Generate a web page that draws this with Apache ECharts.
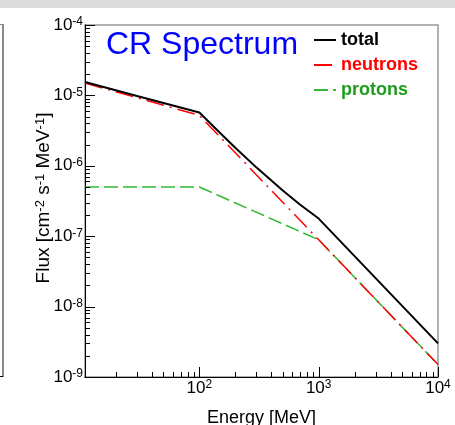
<!DOCTYPE html>
<html>
<head>
<meta charset="utf-8">
<script src="https://cdn.jsdelivr.net/npm/echarts@6/dist/echarts.min.js"></script>
<style>
html,body{margin:0;padding:0;background:#fff;}
#chart{width:455px;height:425px;}
</style>
</head>
<body>
<div id="chart"></div>
<script>
// ---- data ----
const totalEnergy   = [11, 30, 100, 150, 200, 300, 500, 700, 1000, 10000];
const totalFlux     = [1.55e-5, 9.8e-6, 5.7e-6, 2.9e-6, 1.8e-6, 9.5e-7, 4.45e-7, 2.8e-7, 1.78e-7, 3.0e-9];
const neutronEnergy = [11, 100, 1000, 10000];
const neutronFlux   = [1.5e-5, 5.2e-6, 8.9e-8, 1.5e-9];
const protonEnergy  = [11, 100, 1000, 10000];
const protonFlux    = [5.0e-7, 5.0e-7, 8.9e-8, 1.5e-9];

const xRange = [11, 10000];
const yRange = [1e-9, 1e-4];
const xMajorTicks = [100, 1000, 10000];
const xMinorTicks = [20,30,40,50,60,70,80,90, 200,300,400,500,600,700,800,900, 2000,3000,4000,5000,6000,7000,8000,9000];
const yMajorTicks = [1e-9, 1e-8, 1e-7, 1e-6, 1e-5, 1e-4];
const yMinorTicks = [
  2e-9,3e-9,4e-9,5e-9,6e-9,7e-9,8e-9,9e-9,
  2e-8,3e-8,4e-8,5e-8,6e-8,7e-8,8e-8,9e-8,
  2e-7,3e-7,4e-7,5e-7,6e-7,7e-7,8e-7,9e-7,
  2e-6,3e-6,4e-6,5e-6,6e-6,7e-6,8e-6,9e-6,
  2e-5,3e-5,4e-5,5e-5,6e-5,7e-5,8e-5,9e-5
];

const seriesNames = ['total', 'neutrons', 'protons'];
const titleText = 'CR Spectrum';

function pairs(xs, ys){ return xs.map(function(x,i){ return [x, ys[i]]; }); }

const FONT = 'Liberation Sans';
function powLabel(v){
  const e = Math.round(Math.log10(v));
  return '{b|10}{s|' + e + '}';
}
const labelRich = {
  b: {fontSize: 17, lineHeight: 18, fontFamily: FONT, color: '#000'},
  s: {fontSize: 12, lineHeight: 8, verticalAlign: 'top', fontFamily: FONT, color: '#000'}
};

// tick marks drawn through the axes' own scales
function tickSeries(values, isX, len){
  return {
    type: 'custom', coordinateSystem: 'cartesian2d',
    silent: true, z: 5,
    data: values.map(function(v){ return isX ? [v, yRange[0]] : [xRange[0], v]; }),
    renderItem: function(params, api){
      const p = api.coord([api.value(0), api.value(1)]);
      if (isX) {
        const x = Math.round(p[0]) + 0.5;
        return {type: 'line', shape: {x1: x, y1: p[1], x2: x, y2: p[1] - len}, style: {stroke: '#000', lineWidth: 1}};
      }
      const y = Math.round(p[1]) + 0.5;
      return {type: 'line', shape: {x1: p[0], y1: y, x2: p[0] + len, y2: y}, style: {stroke: '#000', lineWidth: 1}};
    }
  };
}

const chart = echarts.init(document.getElementById('chart'));
chart.setOption({
  animation: false,
  backgroundColor: '#fff',
  graphic: [
    {type: 'rect', shape: {x: 0, y: 0, width: 455, height: 8}, style: {fill: '#dcdcdc'}, silent: true},
    {type: 'line', shape: {x1: 3, y1: 24, x2: 3, y2: 377}, style: {stroke: '#8a8a8a', lineWidth: 2}, silent: true},
    {type: 'line', shape: {x1: 0, y1: 24.5, x2: 3, y2: 24.5}, style: {stroke: '#8a8a8a', lineWidth: 1}, silent: true},
    {type: 'line', shape: {x1: 0, y1: 376.5, x2: 3, y2: 376.5}, style: {stroke: '#000', lineWidth: 1}, silent: true}
  ],
  title: {
    text: titleText, left: 106, top: 29, padding: 0,
    textStyle: {color: '#0000ff', fontSize: 32, fontWeight: 'normal', fontFamily: FONT}
  },
  legend: {
    orient: 'vertical', left: 313, top: 31, padding: 0,
    itemWidth: 22, itemHeight: 14, itemGap: 7,
    itemStyle: {opacity: 0},
    textStyle: {fontSize: 18, fontWeight: 'bold', fontFamily: FONT},
    data: [
      {name: seriesNames[0], textStyle: {color: '#000'}},
      {name: seriesNames[1], textStyle: {color: '#ff0000'}},
      {name: seriesNames[2], textStyle: {color: '#1c9e1c'}}
    ]
  },
  grid: {left: 85, right: 17, top: 25, bottom: 48, show: true, borderColor: '#999', borderWidth: 1.5,
         containLabel: false, outerBoundsMode: 'none'},
  xAxis: {
    type: 'log', logBase: 10, min: xRange[0], max: xRange[1], position: 'bottom',
    name: 'Energy [MeV]', nameLocation: 'middle', nameGap: 32,
    nameTextStyle: {fontSize: 18, color: '#000', fontFamily: FONT},
    axisLine: {show: true, lineStyle: {color: '#000', width: 1}},
    axisTick: {show: false},
    axisLabel: {show: true, margin: 2, customValues: xMajorTicks, formatter: powLabel, rich: labelRich},
    splitLine: {show: false}, minorTick: {show: false}
  },
  yAxis: {
    type: 'log', logBase: 10, min: yRange[0], max: yRange[1], position: 'left',
    name: 'Flux [cm{s|-2} s{s|-1} MeV{s|-1}]', nameLocation: 'middle', nameGap: 31, nameRotate: 90,
    nameMoveOverlap: false,
    nameTextStyle: {fontSize: 19, lineHeight: 20, color: '#000', fontFamily: FONT, padding: [0, 0, 0, 6],
      rich: {s: {fontSize: 13, lineHeight: 10, verticalAlign: 'top', fontFamily: FONT, color: '#000'}}},
    axisLine: {show: true, lineStyle: {color: '#000', width: 1}},
    axisTick: {show: false},
    axisLabel: {show: true, margin: 2, customValues: yMajorTicks, formatter: powLabel, rich: labelRich},
    splitLine: {show: false}, minorTick: {show: false}
  },
  series: [
    {
      name: seriesNames[2], type: 'line', symbol: 'none',
      data: pairs(protonEnergy, protonFlux),
      lineStyle: {color: '#33b833', width: 1.5, type: [14, 5]}, itemStyle: {color: '#33b833'}
    },
    {
      name: seriesNames[1], type: 'line', symbol: 'none',
      data: pairs(neutronEnergy, neutronFlux),
      lineStyle: {color: '#ff0000', width: 1.5, type: [18, 6, 2, 6]}, itemStyle: {color: '#ff0000'}
    },
    {
      name: seriesNames[0], type: 'line', symbol: 'none',
      data: pairs(totalEnergy, totalFlux),
      lineStyle: {color: '#000', width: 2, type: 'solid'}, itemStyle: {color: '#000'}
    },
    tickSeries(xMajorTicks, true, 10),
    tickSeries(xMinorTicks, true, 5),
    tickSeries(yMajorTicks, false, 10),
    tickSeries(yMinorTicks, false, 5)
  ]
});
</script>
</body>
</html>
